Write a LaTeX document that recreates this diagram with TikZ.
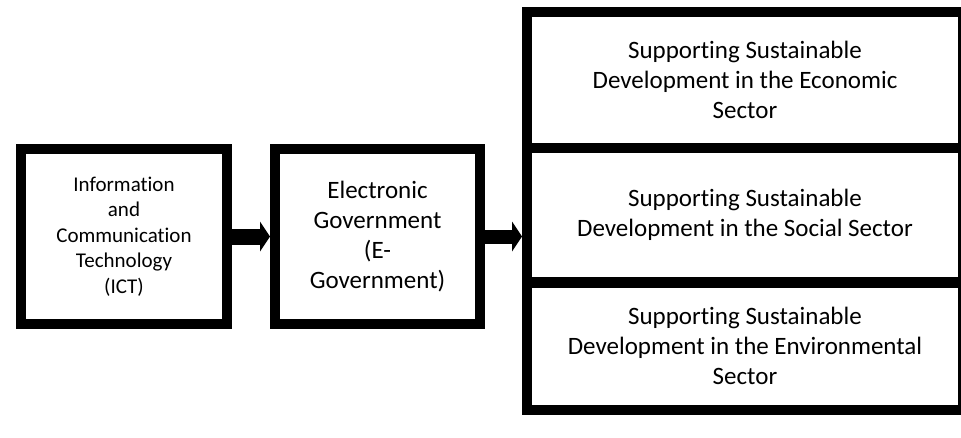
\documentclass[tikz,border=0pt]{standalone}
\usepackage{fontspec}
\setmainfont{Carlito}[Ligatures=NoCommon]
\usetikzlibrary{arrows.meta}
\begin{document}
\begin{tikzpicture}[x=1pt,y=-1pt,
  blk/.style={draw=black,line width=10pt,rectangle,inner sep=0pt,align=center,fill=white},
  smalltxt/.style={font=\fontsize{21}{25.5}\selectfont},
  bigtxt/.style={font=\fontsize{25}{30}\selectfont},
  flow/.style={line width=16pt,-{Triangle[length=10pt,width=30pt,line width=0pt]}}]
\useasboundingbox (0,0) rectangle (961,437);
\node[blk,smalltxt,minimum width=206pt,minimum height=175.5pt] (ict) at (124,236.5)
  {Information\\and\\Communication\\Technology\\(ICT)};
\node[blk,bigtxt,minimum width=205pt,minimum height=175.5pt] (egov) at (377.5,236.5)
  {Electronic\\Government\\(E-\\Government)};
\node[blk,bigtxt,minimum width=436pt,minimum height=135.5pt] (eco) at (745,79.75)
  {Supporting Sustainable\\Development in the Economic\\Sector};
\node[blk,bigtxt,minimum width=436pt,minimum height=134.5pt] (soc) at (745,214.75)
  {Supporting Sustainable\\Development in the Social Sector};
\node[blk,bigtxt,minimum width=436pt,minimum height=126.5pt] (env) at (745,346.25)
  {Supporting Sustainable\\Development in the Environmental\\Sector};
\draw[flow] (ict.east) -- (egov.west);
\draw[flow,line width=14pt] (egov.east) -- (egov.east -| soc.west);
\end{tikzpicture}
\end{document}
